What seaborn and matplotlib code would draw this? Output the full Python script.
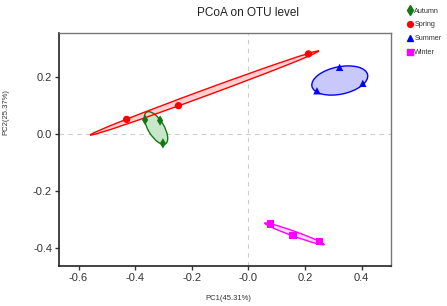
import numpy as np
import pandas as pd
import matplotlib
matplotlib.use('Agg')
import matplotlib.pyplot as plt
from matplotlib.patches import Ellipse
import seaborn as sns

# sample scores on the first two axes
seasons = ['Autumn'] * 3 + ['Spring'] * 3 + ['Summer'] * 3 + ['Winter'] * 3
pc1 = [-0.365, -0.312, -0.302,
       -0.430, -0.247, 0.212,
       0.322, 0.242, 0.404,
       0.079, 0.157, 0.251]
pc2 = [0.049, 0.047, -0.033,
       0.051, 0.099, 0.280,
       0.233, 0.151, 0.177,
       -0.315, -0.356, -0.377]
season_order = ['Autumn', 'Spring', 'Summer', 'Winter']
x_ticks = [-0.6, -0.4, -0.2, 0.0, 0.2, 0.4]
y_ticks = [-0.4, -0.2, 0.0, 0.2]

df = pd.DataFrame({'PC1': pc1, 'PC2': pc2, 'Season': seasons})

colors = {'Autumn': '#137813', 'Spring': '#ff0000', 'Summer': '#0000ff', 'Winter': '#ff00ff'}
fills = {'Autumn': '#c8e6c8', 'Spring': '#ffd0d0', 'Summer': '#c8c8fa', 'Winter': '#ffd8ff'}
markers = {'Autumn': 'd', 'Spring': 'o', 'Summer': '^', 'Winter': 's'}

sns.set_style('white')
plt.rcParams['font.family'] = ['Liberation Sans', 'DejaVu Sans']

fig = plt.figure(figsize=(4.47, 3.06), dpi=100)
ax = fig.add_axes([0.132, 0.131, 0.743, 0.761])

ax.axvline(0, color='#cccccc', ls=(0, (4, 4)), lw=0.8, zorder=0)
ax.axhline(0, color='#cccccc', ls=(0, (4, 4)), lw=0.8, zorder=0)

# confidence-style ellipses from each group's covariance
r = 1.22
for s in season_order:
    g = df[df['Season'] == s]
    pts = g[['PC1', 'PC2']].to_numpy()
    mu = pts.mean(axis=0)
    cov = np.cov(pts.T)
    vals, vecs = np.linalg.eigh(cov)
    order = vals.argsort()[::-1]
    vals, vecs = vals[order], vecs[:, order]
    ang = np.degrees(np.arctan2(vecs[1, 0], vecs[0, 0]))
    w, h = 2 * r * np.sqrt(vals)
    ax.add_patch(Ellipse(mu, w, h, angle=ang, facecolor=fills[s], edgecolor='none', zorder=1))
    ax.add_patch(Ellipse(mu, w, h, angle=ang, facecolor='none', edgecolor=colors[s], lw=1.0, zorder=2))

sns.scatterplot(data=df, x='PC1', y='PC2', hue='Season', style='Season',
                hue_order=season_order, style_order=season_order,
                palette=colors, markers=markers, s=28, linewidth=0,
                ax=ax, zorder=3, legend=False)

ax.set_xlim(-0.669, 0.504)
ax.set_ylim(-0.4615, 0.353)
ax.set_xticks(x_ticks)
ax.set_yticks(y_ticks)
ax.set_xticklabels(['%.1f' % v if v != 0 else '-0.0' for v in x_ticks])
ax.set_yticklabels(['%.1f' % v for v in y_ticks])
ax.tick_params(axis='both', labelsize=8, length=3, width=1, color='#333333',
               labelcolor='#333333', direction='out', bottom=True, left=True, pad=2)
ax.set_xlabel('')
ax.set_ylabel('')
for side in ['left', 'bottom']:
    ax.spines[side].set_color('#222222')
    ax.spines[side].set_linewidth(1.2)
for side in ['top', 'right']:
    ax.spines[side].set_color('#777777')
    ax.spines[side].set_linewidth(1.0)

fig.text(0.555, 0.977, 'PCoA on OTU level', ha='center', va='top', fontsize=8.5, color='#222222')
fig.text(0.51, 0.023, 'PC1(45.31%)', ha='center', va='center', fontsize=5.5, color='#333333')
fig.text(0.014, 0.634, 'PC2(25.37%)', ha='center', va='center', rotation=90, fontsize=5.5, color='#333333')

# legend at the top right
handles = [plt.Line2D([], [], ls='', marker=markers[s], color=colors[s], markersize=4.2 if s != 'Autumn' else 5)
           for s in season_order]
fig.legend(handles, season_order, loc='upper left', bbox_to_anchor=(0.905, 0.985),
           frameon=False, fontsize=5.2, handletextpad=0.15, labelspacing=0.95,
           handlelength=0.8, borderaxespad=0, labelcolor='#333333')

fig.savefig('out.png', dpi=100)
